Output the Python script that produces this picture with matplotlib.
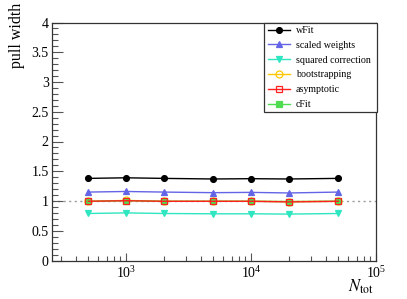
import matplotlib
matplotlib.use("Agg")
import matplotlib.pyplot as plt
from matplotlib.lines import Line2D
from matplotlib.patches import Rectangle
from matplotlib.ticker import LogLocator, MultipleLocator, NullFormatter

plt.rcParams['font.family'] = ['Liberation Serif', 'DejaVu Serif']
plt.rcParams['mathtext.fontset'] = 'stix'

n_tot = [500, 1000, 2000, 5000, 10000, 20000, 50000]
wfit = [1.38, 1.39, 1.38, 1.37, 1.375, 1.37, 1.38]
scaled_weights = [1.15, 1.16, 1.15, 1.14, 1.145, 1.135, 1.15]
squared_correction = [0.79, 0.80, 0.79, 0.785, 0.785, 0.78, 0.79]
bootstrapping = [0.995, 1.01, 0.995, 0.995, 0.995, 0.99, 0.995]
asymptotic = [0.995, 1.005, 0.995, 0.995, 0.995, 0.985, 0.995]
cfit = [0.995, 1.005, 0.995, 0.995, 0.995, 0.99, 0.995]

W, H = 407, 299
fig = plt.figure(figsize=(W/100, H/100), dpi=100)
ax = fig.add_axes([51.5/W, (H-260.5)/H, 324.5/W, 238/H])

ax.axhline(1.0, color='#999999', lw=1, ls=(0, (1.5, 2.5)), zorder=1)

series = [
    ("wFit", wfit, dict(color='black', marker='o', ms=4.2, mfc='black', mec='black')),
    ("scaled weights", scaled_weights, dict(color='#6464e6', marker='^', ms=4.5, mfc='#6464e6', mec='#6464e6')),
    ("squared correction", squared_correction, dict(color='#2ee6c0', marker='v', ms=4.5, mfc='#2ee6c0', mec='#2ee6c0')),
    ("bootstrapping", bootstrapping, dict(color='#ffc800', marker='o', ms=5, mfc='none', mec='#ffc800')),
    ("cFit", cfit, dict(color='#50dc50', marker='s', ms=4.5, mfc='#50dc50', mec='#50dc50')),
    ("asymptotic", asymptotic, dict(color='#ff2020', marker='s', ms=4.8, mfc='none', mec='#ff2020')),
]
handles = {}
for name, vals, st in series:
    l, = ax.plot(n_tot, vals, lw=1, mew=0.9, zorder=3, **st)
    handles[name] = l

ax.set_xscale('log')
ax.set_xlim(254, 1e5)
ax.set_ylim(0, 4)
ax.yaxis.set_major_locator(MultipleLocator(0.5))
ax.yaxis.set_minor_locator(MultipleLocator(0.1))
ax.yaxis.set_major_formatter(matplotlib.ticker.FuncFormatter(lambda v, p: ('%g' % v)))
ax.xaxis.set_major_locator(LogLocator(base=10, numticks=10))
ax.xaxis.set_minor_locator(LogLocator(base=10, subs=range(2, 10), numticks=20))
ax.xaxis.set_minor_formatter(NullFormatter())

ax.tick_params(axis='both', which='both', direction='in', top=False, right=False,
               labelsize=10, color='#555555')
ax.tick_params(axis='y', which='major', length=8, width=0.8, pad=2)
ax.tick_params(axis='y', which='minor', length=4, width=0.8)
ax.tick_params(axis='x', which='major', length=6, width=0.8, pad=3)
ax.tick_params(axis='x', which='minor', length=3.5, width=0.8)
for s in ax.spines.values():
    s.set_color('#333333')
    s.set_linewidth(0.9)

fig.text(17/W, 1 - 3/H, "pull width", rotation=90, ha='center', va='top', fontsize=11.5)
fig.text(374/W, 1 - 292/H, r"$N_{\mathrm{tot}}$", ha='right', va='baseline', fontsize=12)

# legend box
fig.patches.append(Rectangle((264/W, 1 - 112/H), 113/W, 89.5/H, transform=fig.transFigure,
                             facecolor='white', edgecolor='#333333', lw=0.9, zorder=5))
order = ["wFit", "scaled weights", "squared correction", "bootstrapping", "asymptotic", "cFit"]
leg_h = []
for name in order:
    h = handles[name]
    leg_h.append(Line2D([0], [0], color=h.get_color(), marker=h.get_marker(), ms=h.get_markersize(),
                        mfc=h.get_markerfacecolor(), mec=h.get_markeredgecolor(), lw=1, mew=0.9))
leg = fig.legend(leg_h, order, loc='upper left', bbox_to_anchor=(265/W, 1 - 23/H),
                 frameon=False, fontsize=7.2, handlelength=2.2, handletextpad=0.6,
                 labelspacing=0.58, borderpad=0.3, borderaxespad=0)
leg.set_zorder(6)

fig.savefig("out.png", dpi=100)
